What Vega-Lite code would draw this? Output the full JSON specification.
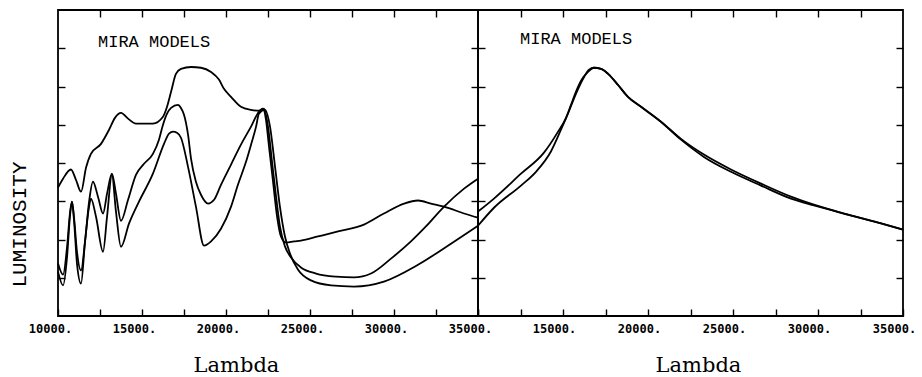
{
  "$schema": "https://vega.github.io/schema/vega-lite/v6.json",
  "background": "white",
  "padding": {"left": 7, "top": 8, "right": 2, "bottom": 0},
  "spacing": 0,
  "bounds": "flush",
  "config": {
    "view": {"stroke": "black", "strokeWidth": 1.8},
    "axis": {"domain": false, "grid": false, "tickColor": "black", "tickWidth": 1.4, "tickSize": -7, "labelColor": "black", "titleColor": "black", "minExtent": 0, "labelOverlap": false}
  },
  "datasets": {
    "left": [
      {"curve": "A", "lambda": 10000, "lum": 3.36}, {"curve": "A", "lambda": 10300, "lum": 3.59}, {"curve": "A", "lambda": 10770, "lum": 3.83}, {"curve": "A", "lambda": 11070, "lum": 3.56}, {"curve": "A", "lambda": 11370, "lum": 3.25}, {"curve": "A", "lambda": 11670, "lum": 3.88}, {"curve": "A", "lambda": 11960, "lum": 4.24}, {"curve": "A", "lambda": 12560, "lum": 4.50}, {"curve": "A", "lambda": 13040, "lum": 4.87}, {"curve": "A", "lambda": 13390, "lum": 5.18}, {"curve": "A", "lambda": 13750, "lum": 5.31}, {"curve": "A", "lambda": 14170, "lum": 5.16}, {"curve": "A", "lambda": 14640, "lum": 5.03}, {"curve": "A", "lambda": 15650, "lum": 5.03}, {"curve": "A", "lambda": 16250, "lum": 5.21}, {"curve": "A", "lambda": 16490, "lum": 5.47}, {"curve": "A", "lambda": 16730, "lum": 5.86}, {"curve": "A", "lambda": 17020, "lum": 6.33}, {"curve": "A", "lambda": 17320, "lum": 6.46}, {"curve": "A", "lambda": 17920, "lum": 6.51}, {"curve": "A", "lambda": 18510, "lum": 6.49}, {"curve": "A", "lambda": 19110, "lum": 6.38}, {"curve": "A", "lambda": 19580, "lum": 6.18}, {"curve": "A", "lambda": 19880, "lum": 5.94}, {"curve": "A", "lambda": 20300, "lum": 5.73}, {"curve": "A", "lambda": 20890, "lum": 5.47}, {"curve": "A", "lambda": 21490, "lum": 5.39}, {"curve": "A", "lambda": 21960, "lum": 5.37}, {"curve": "A", "lambda": 22200, "lum": 5.42}, {"curve": "A", "lambda": 22380, "lum": 5.13}, {"curve": "A", "lambda": 22560, "lum": 4.43}, {"curve": "A", "lambda": 22800, "lum": 3.51}, {"curve": "A", "lambda": 23040, "lum": 2.60}, {"curve": "A", "lambda": 23270, "lum": 2.08}, {"curve": "A", "lambda": 23570, "lum": 1.92}, {"curve": "A", "lambda": 24050, "lum": 1.95}, {"curve": "A", "lambda": 24460, "lum": 1.97}, {"curve": "A", "lambda": 25480, "lum": 2.08}, {"curve": "A", "lambda": 26670, "lum": 2.21}, {"curve": "A", "lambda": 28210, "lum": 2.39}, {"curve": "A", "lambda": 29400, "lum": 2.68}, {"curve": "A", "lambda": 30600, "lum": 2.94}, {"curve": "A", "lambda": 31430, "lum": 3.02}, {"curve": "A", "lambda": 32200, "lum": 2.94}, {"curve": "A", "lambda": 32980, "lum": 2.86}, {"curve": "A", "lambda": 34170, "lum": 2.68}, {"curve": "A", "lambda": 35000, "lum": 2.57},
      {"curve": "B", "lambda": 10000, "lum": 1.37}, {"curve": "B", "lambda": 10300, "lum": 1.08}, {"curve": "B", "lambda": 10540, "lum": 1.81}, {"curve": "B", "lambda": 10710, "lum": 2.68}, {"curve": "B", "lambda": 10830, "lum": 2.99}, {"curve": "B", "lambda": 10950, "lum": 2.60}, {"curve": "B", "lambda": 11130, "lum": 1.68}, {"curve": "B", "lambda": 11370, "lum": 1.19}, {"curve": "B", "lambda": 11610, "lum": 1.95}, {"curve": "B", "lambda": 11850, "lum": 2.99}, {"curve": "B", "lambda": 12080, "lum": 3.51}, {"curve": "B", "lambda": 12380, "lum": 3.12}, {"curve": "B", "lambda": 12680, "lum": 2.68}, {"curve": "B", "lambda": 12920, "lum": 3.20}, {"curve": "B", "lambda": 13210, "lum": 3.72}, {"curve": "B", "lambda": 13450, "lum": 3.20}, {"curve": "B", "lambda": 13750, "lum": 2.49}, {"curve": "B", "lambda": 14170, "lum": 3.04}, {"curve": "B", "lambda": 14640, "lum": 3.69}, {"curve": "B", "lambda": 15120, "lum": 3.98}, {"curve": "B", "lambda": 15650, "lum": 4.24}, {"curve": "B", "lambda": 16010, "lum": 4.61}, {"curve": "B", "lambda": 16250, "lum": 5.00}, {"curve": "B", "lambda": 16490, "lum": 5.29}, {"curve": "B", "lambda": 16730, "lum": 5.44}, {"curve": "B", "lambda": 17140, "lum": 5.52}, {"curve": "B", "lambda": 17320, "lum": 5.44}, {"curve": "B", "lambda": 17500, "lum": 5.26}, {"curve": "B", "lambda": 17740, "lum": 4.74}, {"curve": "B", "lambda": 17920, "lum": 4.11}, {"curve": "B", "lambda": 18210, "lum": 3.51}, {"curve": "B", "lambda": 18510, "lum": 3.17}, {"curve": "B", "lambda": 18930, "lum": 2.94}, {"curve": "B", "lambda": 19290, "lum": 3.04}, {"curve": "B", "lambda": 19700, "lum": 3.43}, {"curve": "B", "lambda": 20300, "lum": 3.96}, {"curve": "B", "lambda": 20890, "lum": 4.48}, {"curve": "B", "lambda": 21490, "lum": 4.95}, {"curve": "B", "lambda": 21960, "lum": 5.34}, {"curve": "B", "lambda": 22260, "lum": 5.42}, {"curve": "B", "lambda": 22500, "lum": 4.95}, {"curve": "B", "lambda": 22740, "lum": 4.03}, {"curve": "B", "lambda": 22980, "lum": 3.12}, {"curve": "B", "lambda": 23210, "lum": 2.34}, {"curve": "B", "lambda": 23510, "lum": 1.82}, {"curve": "B", "lambda": 23870, "lum": 1.53}, {"curve": "B", "lambda": 24460, "lum": 1.27}, {"curve": "B", "lambda": 25360, "lum": 1.11}, {"curve": "B", "lambda": 26550, "lum": 1.03}, {"curve": "B", "lambda": 27620, "lum": 1.01}, {"curve": "B", "lambda": 28630, "lum": 1.11}, {"curve": "B", "lambda": 29820, "lum": 1.50}, {"curve": "B", "lambda": 31010, "lum": 1.95}, {"curve": "B", "lambda": 31900, "lum": 2.34}, {"curve": "B", "lambda": 32980, "lum": 2.86}, {"curve": "B", "lambda": 34170, "lum": 3.33}, {"curve": "B", "lambda": 35000, "lum": 3.59},
      {"curve": "C", "lambda": 10000, "lum": 1.16}, {"curve": "C", "lambda": 10300, "lum": 0.80}, {"curve": "C", "lambda": 10540, "lum": 1.55}, {"curve": "C", "lambda": 10710, "lum": 2.60}, {"curve": "C", "lambda": 10830, "lum": 2.99}, {"curve": "C", "lambda": 10950, "lum": 2.52}, {"curve": "C", "lambda": 11130, "lum": 1.37}, {"curve": "C", "lambda": 11370, "lum": 0.85}, {"curve": "C", "lambda": 11610, "lum": 1.95}, {"curve": "C", "lambda": 11850, "lum": 2.86}, {"curve": "C", "lambda": 11960, "lum": 3.07}, {"curve": "C", "lambda": 12260, "lum": 2.60}, {"curve": "C", "lambda": 12680, "lum": 1.68}, {"curve": "C", "lambda": 12920, "lum": 2.60}, {"curve": "C", "lambda": 13210, "lum": 3.69}, {"curve": "C", "lambda": 13450, "lum": 2.73}, {"curve": "C", "lambda": 13750, "lum": 1.81}, {"curve": "C", "lambda": 14230, "lum": 2.42}, {"curve": "C", "lambda": 14820, "lum": 2.99}, {"curve": "C", "lambda": 15650, "lum": 3.72}, {"curve": "C", "lambda": 16310, "lum": 4.50}, {"curve": "C", "lambda": 16610, "lum": 4.77}, {"curve": "C", "lambda": 16850, "lum": 4.82}, {"curve": "C", "lambda": 17080, "lum": 4.79}, {"curve": "C", "lambda": 17320, "lum": 4.66}, {"curve": "C", "lambda": 17740, "lum": 3.90}, {"curve": "C", "lambda": 18210, "lum": 2.86}, {"curve": "C", "lambda": 18690, "lum": 1.84}, {"curve": "C", "lambda": 19110, "lum": 1.95}, {"curve": "C", "lambda": 19700, "lum": 2.28}, {"curve": "C", "lambda": 20300, "lum": 2.86}, {"curve": "C", "lambda": 20710, "lum": 3.43}, {"curve": "C", "lambda": 21190, "lum": 4.03}, {"curve": "C", "lambda": 21490, "lum": 4.48}, {"curve": "C", "lambda": 21790, "lum": 4.95}, {"curve": "C", "lambda": 21960, "lum": 5.29}, {"curve": "C", "lambda": 22320, "lum": 5.39}, {"curve": "C", "lambda": 22620, "lum": 4.95}, {"curve": "C", "lambda": 22920, "lum": 3.90}, {"curve": "C", "lambda": 23210, "lum": 2.86}, {"curve": "C", "lambda": 23510, "lum": 2.08}, {"curve": "C", "lambda": 23810, "lum": 1.63}, {"curve": "C", "lambda": 24290, "lum": 1.21}, {"curve": "C", "lambda": 25060, "lum": 0.93}, {"curve": "C", "lambda": 26250, "lum": 0.80}, {"curve": "C", "lambda": 27620, "lum": 0.77}, {"curve": "C", "lambda": 29400, "lum": 0.90}, {"curve": "C", "lambda": 31430, "lum": 1.34}, {"curve": "C", "lambda": 33390, "lum": 1.89}, {"curve": "C", "lambda": 35000, "lum": 2.36}
    ],
    "right": [
      {"curve": "P", "lambda": 10000, "lum": 2.73}, {"curve": "P", "lambda": 10940, "lum": 3.07}, {"curve": "P", "lambda": 12530, "lum": 3.72}, {"curve": "P", "lambda": 13880, "lum": 4.27}, {"curve": "P", "lambda": 14710, "lum": 4.82}, {"curve": "P", "lambda": 15180, "lum": 5.18}, {"curve": "P", "lambda": 15470, "lum": 5.52}, {"curve": "P", "lambda": 15760, "lum": 5.86}, {"curve": "P", "lambda": 16060, "lum": 6.15}, {"curve": "P", "lambda": 16470, "lum": 6.38}, {"curve": "P", "lambda": 16820, "lum": 6.49}, {"curve": "P", "lambda": 17240, "lum": 6.46}, {"curve": "P", "lambda": 17650, "lum": 6.33}, {"curve": "P", "lambda": 18240, "lum": 6.04}, {"curve": "P", "lambda": 18820, "lum": 5.73}, {"curve": "P", "lambda": 19590, "lum": 5.47}, {"curve": "P", "lambda": 20760, "lum": 5.08}, {"curve": "P", "lambda": 21940, "lum": 4.63}, {"curve": "P", "lambda": 23290, "lum": 4.22}, {"curve": "P", "lambda": 24880, "lum": 3.83}, {"curve": "P", "lambda": 26650, "lum": 3.46}, {"curve": "P", "lambda": 28410, "lum": 3.12}, {"curve": "P", "lambda": 29760, "lum": 2.91}, {"curve": "P", "lambda": 31760, "lum": 2.65}, {"curve": "P", "lambda": 33710, "lum": 2.42}, {"curve": "P", "lambda": 35000, "lum": 2.26},
      {"curve": "Q", "lambda": 10000, "lum": 2.36}, {"curve": "Q", "lambda": 10940, "lum": 2.83}, {"curve": "Q", "lambda": 12530, "lum": 3.41}, {"curve": "Q", "lambda": 13410, "lum": 3.77}, {"curve": "Q", "lambda": 14290, "lum": 4.30}, {"curve": "Q", "lambda": 14880, "lum": 4.87}, {"curve": "Q", "lambda": 15290, "lum": 5.29}, {"curve": "Q", "lambda": 15760, "lum": 5.81}, {"curve": "Q", "lambda": 16240, "lum": 6.25}, {"curve": "Q", "lambda": 16530, "lum": 6.44}, {"curve": "Q", "lambda": 16820, "lum": 6.49}, {"curve": "Q", "lambda": 17240, "lum": 6.46}, {"curve": "Q", "lambda": 17650, "lum": 6.33}, {"curve": "Q", "lambda": 18240, "lum": 6.04}, {"curve": "Q", "lambda": 18820, "lum": 5.73}, {"curve": "Q", "lambda": 19590, "lum": 5.47}, {"curve": "Q", "lambda": 20760, "lum": 5.08}, {"curve": "Q", "lambda": 21940, "lum": 4.61}, {"curve": "Q", "lambda": 23290, "lum": 4.16}, {"curve": "Q", "lambda": 24880, "lum": 3.77}, {"curve": "Q", "lambda": 26650, "lum": 3.41}, {"curve": "Q", "lambda": 28410, "lum": 3.07}, {"curve": "Q", "lambda": 29760, "lum": 2.89}, {"curve": "Q", "lambda": 31760, "lum": 2.65}, {"curve": "Q", "lambda": 33710, "lum": 2.42}, {"curve": "Q", "lambda": 35000, "lum": 2.26}
    ],
    "notes": [
      {"panel": "left", "lambda": 12380, "lum": 7.04, "text": "MIRA MODELS"},
      {"panel": "right", "lambda": 12470, "lum": 7.1, "text": "MIRA MODELS"}
    ]
  },
  "hconcat": [
    {
      "width": 420,
      "height": 306,
      "layer": [
        {
          "data": {"name": "left"},
          "mark": {"type": "line", "color": "black", "strokeWidth": 1.8, "interpolate": "monotone"},
          "encoding": {
            "x": {"field": "lambda", "type": "quantitative", "scale": {"domain": [10000, 35000], "nice": false, "zero": false},
              "axis": {"orient": "bottom", "values": [10000, 12500, 15000, 17500, 20000, 22500, 25000, 27500, 30000, 32500, 35000], "format": "d",
                "labelExpr": "datum.value % 5000 == 0 ? datum.label + '.' : ''",
                "labelFont": "DejaVu Sans Mono", "labelFontWeight": "bold", "labelFontSize": 12, "labelPadding": 14, "labelOffset": -8, "labelFlush": false, "labelBaseline": "top",
                "title": "Lambda", "titleFont": "DejaVu Serif", "titleFontSize": 21, "titleFontWeight": "normal", "titleX": 178, "titleY": 55, "titleBaseline": "alphabetic"}},
            "y": {"field": "lum", "type": "quantitative", "scale": {"domain": [0, 8], "nice": false, "zero": false},
              "axis": {"orient": "left", "values": [1, 2, 3, 4, 5, 6, 7], "labels": false,
                "title": "LUMINOSITY", "titleFont": "Liberation Mono", "titleFontSize": 21, "titleFontWeight": "normal", "titleX": -33, "titleY": 214, "titleBaseline": "alphabetic", "titleAngle": -90}},
            "detail": {"field": "curve"}
          }
        },
        {
          "data": {"name": "notes"},
          "transform": [{"filter": "datum.panel == 'left'"}],
          "mark": {"type": "text", "align": "left", "baseline": "alphabetic", "font": "Liberation Mono", "fontSize": 17, "color": "black"},
          "encoding": {
            "x": {"field": "lambda", "type": "quantitative", "axis": {"orient": "top", "values": [12500, 15000, 17500, 20000, 22500, 25000, 27500, 30000, 32500], "labels": false, "title": null}},
            "y": {"field": "lum", "type": "quantitative", "axis": {"orient": "right", "values": [1, 2, 3, 4, 5, 6, 7], "labels": false, "title": null}},
            "text": {"field": "text"}
          }
        }
      ],
      "resolve": {"axis": {"x": "independent", "y": "independent"}}
    },
    {
      "width": 425,
      "height": 306,
      "layer": [
        {
          "data": {"name": "right"},
          "mark": {"type": "line", "color": "black", "strokeWidth": 1.8, "interpolate": "monotone"},
          "encoding": {
            "x": {"field": "lambda", "type": "quantitative", "scale": {"domain": [10000, 35000], "nice": false, "zero": false},
              "axis": {"orient": "bottom", "values": [10000, 12500, 15000, 17500, 20000, 22500, 25000, 27500, 30000, 32500, 35000], "format": "d",
                "labelExpr": "datum.value % 5000 == 0 && datum.value > 10000 ? datum.label + '.' : ''",
                "labelFont": "DejaVu Sans Mono", "labelFontWeight": "bold", "labelFontSize": 12, "labelPadding": 14, "labelOffset": -9, "labelFlush": false, "labelBaseline": "top",
                "title": "Lambda", "titleFont": "DejaVu Serif", "titleFontSize": 21, "titleFontWeight": "normal", "titleX": 220, "titleY": 55, "titleBaseline": "alphabetic"}},
            "y": {"field": "lum", "type": "quantitative", "scale": {"domain": [0, 8], "nice": false, "zero": false},
              "axis": {"orient": "left", "values": [1, 2, 3, 4, 5, 6, 7], "labels": false, "title": null}},
            "detail": {"field": "curve"}
          }
        },
        {
          "data": {"name": "notes"},
          "transform": [{"filter": "datum.panel == 'right'"}],
          "mark": {"type": "text", "align": "left", "baseline": "alphabetic", "font": "Liberation Mono", "fontSize": 17, "color": "black"},
          "encoding": {
            "x": {"field": "lambda", "type": "quantitative", "axis": {"orient": "top", "values": [12500, 15000, 17500, 20000, 22500, 25000, 27500, 30000, 32500], "labels": false, "title": null}},
            "y": {"field": "lum", "type": "quantitative", "axis": {"orient": "right", "values": [1, 2, 3, 4, 5, 6, 7], "labels": false, "title": null}},
            "text": {"field": "text"}
          }
        }
      ],
      "resolve": {"axis": {"x": "independent", "y": "independent"}}
    }
  ]
}
